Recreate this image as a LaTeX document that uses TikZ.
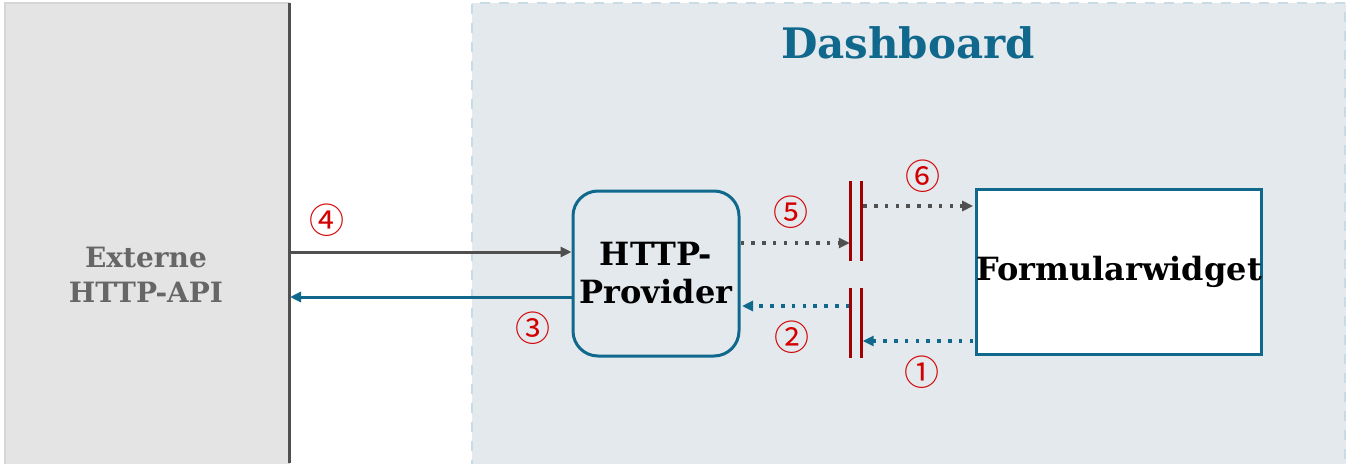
\documentclass[tikz,border=0pt]{standalone}
\usepackage{fontspec}
\setmainfont{DejaVu Serif}
\newfontfamily\circfont{Noto Sans CJK SC}
\usetikzlibrary{arrows.meta}
\definecolor{tealc}{RGB}{16,104,140}
\definecolor{grayarrow}{RGB}{80,80,80}
\definecolor{leftfill}{RGB}{228,228,228}
\definecolor{leftborder}{RGB}{214,214,214}
\definecolor{dashfill}{RGB}{228,233,238}
\definecolor{dashborder}{RGB}{200,219,230}
\definecolor{labred}{RGB}{210,0,0}
\definecolor{barred}{RGB}{160,0,0}
\definecolor{apitext}{RGB}{102,102,102}
\tikzset{
  num/.style={font=\circfont\fontsize{35}{35}\selectfont, text=labred, inner sep=0pt},
  solidgray/.style={draw=grayarrow, line width=3pt, -{Triangle[length=11pt,width=10pt]}},
  solidteal/.style={draw=tealc, line width=3pt, -{Triangle[length=11pt,width=10pt]}},
  dotgray/.style={draw=grayarrow, line width=3.5pt, dash pattern=on 3.5pt off 7.3pt, -{Triangle[length=11pt,width=10pt]}},
  dotteal/.style={draw=tealc, line width=3.5pt, dash pattern=on 3.5pt off 7.3pt, -{Triangle[length=11pt,width=10pt]}},
  gatebox/.style={draw=none, minimum width=10pt, inner sep=0pt},
  barline/.style={draw=barred, line width=3pt},
}
\begin{document}
\begin{tikzpicture}[x=1pt,y=-1pt]
\useasboundingbox (0,0) rectangle (1346,463);
% left panel
\fill[leftfill, draw=leftborder, line width=1.5pt] (5,3) rectangle (289,470);
\draw[grayarrow, line width=3pt] (289,3) -- (289,463);
\node[text=apitext, align=center, font=\bfseries\fontsize{28}{35}\selectfont] (api) at (146,275) {Externe\\HTTP-API};
\coordinate (apiedge) at (289,274);
% dashboard panel
\fill[dashfill] (472,3) rectangle (1350,470);
\draw[dashborder, line width=2pt, dash pattern=on 10pt off 9pt] (472,470) -- (472,3) -- (1345,3) -- (1345,470);
\node[text=tealc, font=\bfseries\fontsize{42}{46}\selectfont] (title) at (908,43) {Dashboard};
% provider
\node[draw=tealc, line width=3pt, rounded corners=25pt, fill=dashfill, minimum width=166pt, minimum height=165pt, align=center, font=\bfseries\fontsize{32}{38}\selectfont, inner sep=0pt] (prov) at (656,273.5) {HTTP-\\Provider};
% formular
\node[draw=tealc, line width=3pt, fill=white, minimum width=284pt, minimum height=165pt, font=\bfseries\fontsize{32}{38}\selectfont, inner sep=0pt] (form) at (1119,271.5) {Formularwidget};
% gates
\node[gatebox, minimum height=80pt] (gu) at (856,221) {};
\node[gatebox, minimum height=70pt] (gl) at (856,323) {};
\draw[barline] (gu.north west) -- (gu.south west);
\draw[barline] (gu.north east) -- (gu.south east);
\draw[barline] (gl.north west) -- (gl.south west);
\draw[barline] (gl.north east) -- (gl.south east);
% connectors
\coordinate (y4) at (0,252);
\coordinate (y3) at (0,297);
\coordinate (y5) at (0,243);
\coordinate (y6) at (0,206);
\coordinate (y2) at (0,306);
\coordinate (y1) at (0,341);
\draw[solidgray] (apiedge |- y4) -- (prov.west |- y4);
\draw[solidteal] (prov.west |- y3) -- ([xshift=1pt]apiedge |- y3);
\draw[dotgray] (prov.east |- y5) -- ([xshift=-1pt]gu.west |- y5);
\draw[dotgray] ([xshift=2pt]gu.east |- y6) -- ([xshift=-1.5pt]form.west |- y6);
\draw[dotteal] ([xshift=-1.5pt]form.west |- y1) -- ([xshift=1.5pt]gl.east |- y1);
\draw[dotteal] ([xshift=-1.5pt]gl.west |- y2) -- ([xshift=1.5pt]prov.east |- y2);
% labels
\node[num] (n4) at (327,220) {④};
\node[num] (n3) at (533,328) {③};
\node[num] (n5) at (791,212) {⑤};
\node[num] (n2) at (792,337) {②};
\node[num] (n6) at (923,176) {⑥};
\node[num] (n1) at (922,372) {①};
\end{tikzpicture}
\end{document}
